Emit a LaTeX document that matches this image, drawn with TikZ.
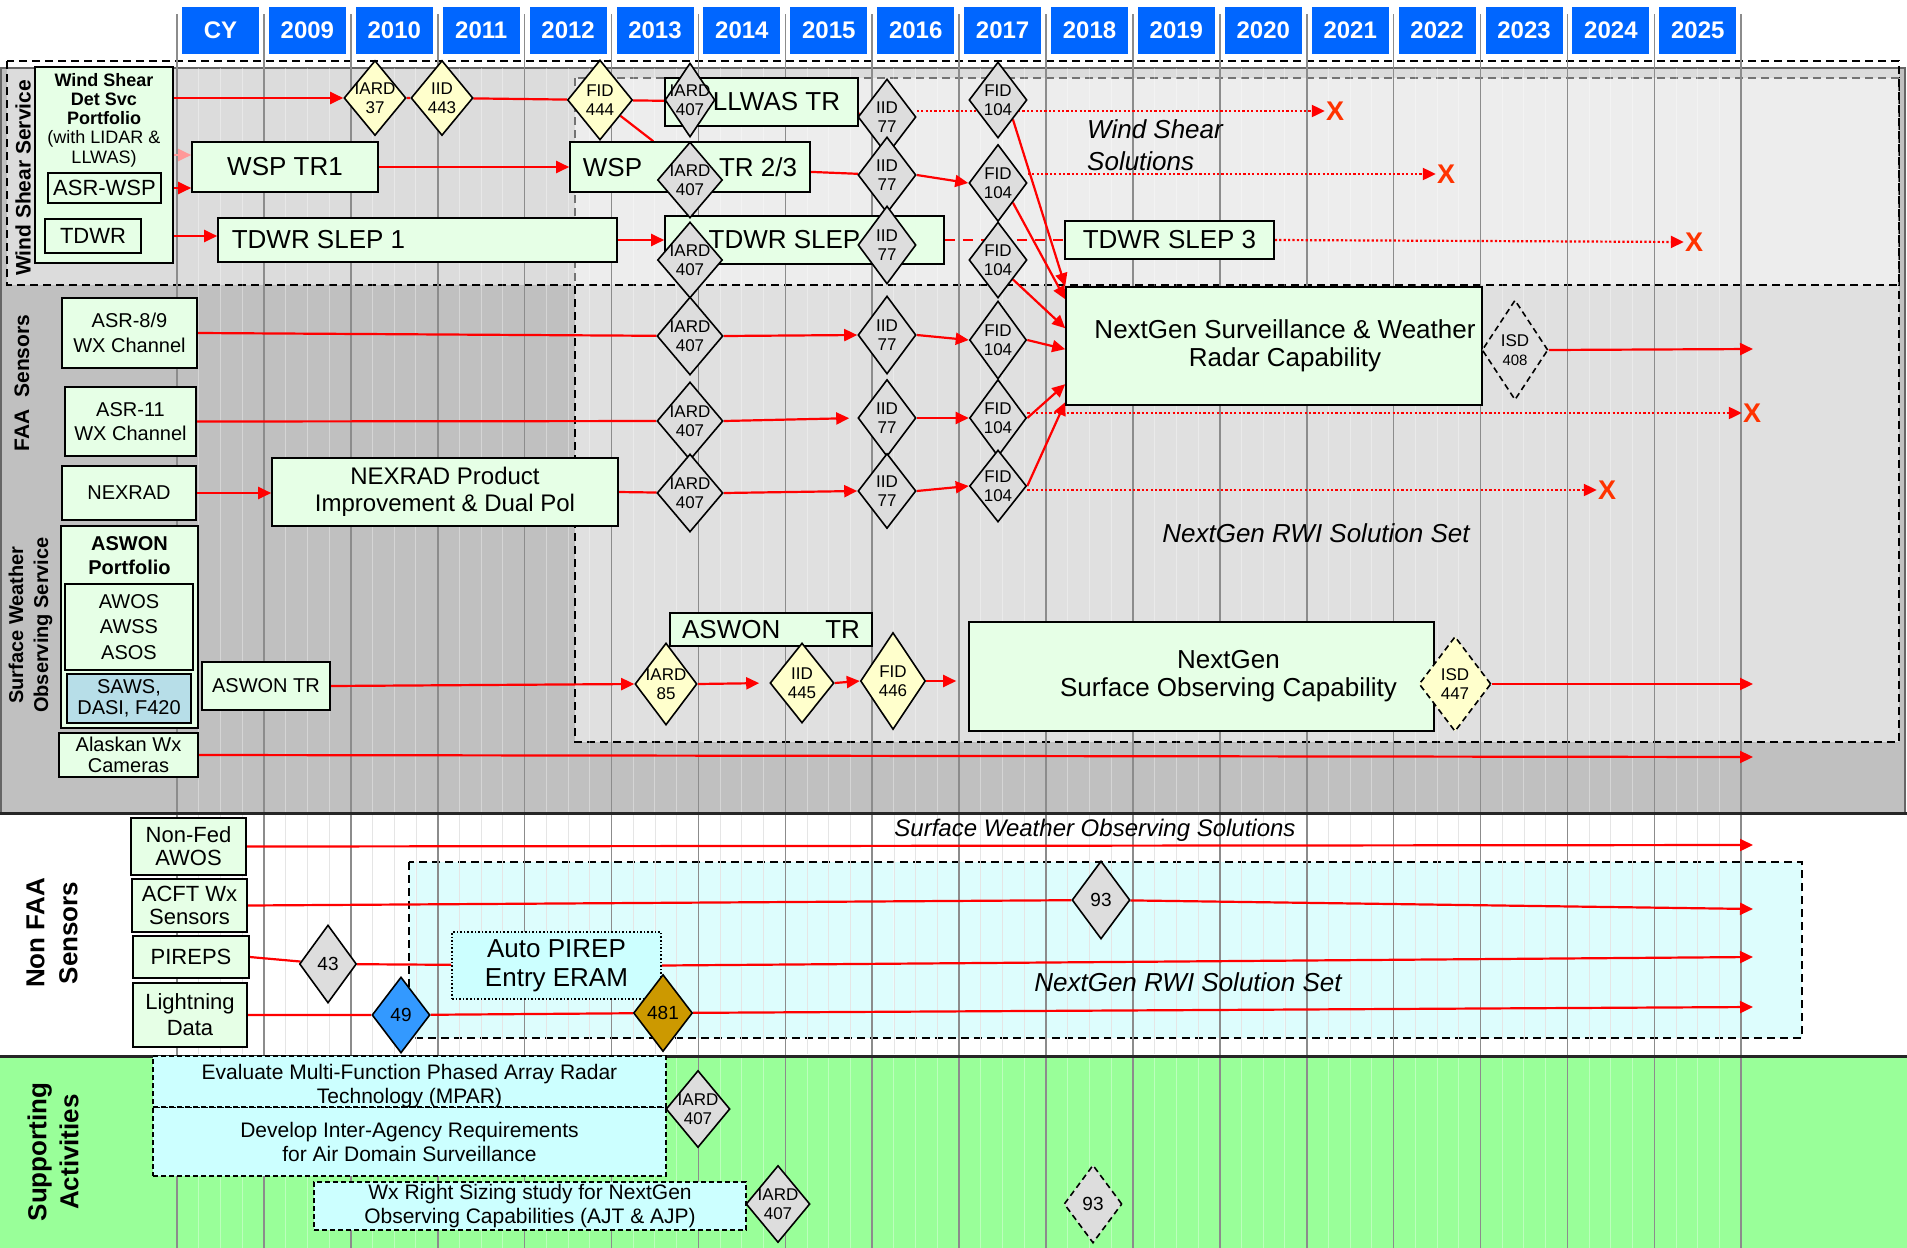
\documentclass[tikz,border=0pt]{standalone}
\usepackage{fontspec}
\setmainfont{Liberation Sans}
\usetikzlibrary{shapes.geometric,arrows.meta,calc}
\definecolor{mint}{HTML}{E6FFE6}
\definecolor{pyel}{HTML}{FFFFCC}
\definecolor{dgray}{HTML}{DDDDDD}
\definecolor{hblue}{HTML}{0066FF}
\definecolor{panel}{HTML}{C0C0C0}
\definecolor{rwi}{HTML}{E0E0E0}
\definecolor{lcyan}{HTML}{DDFDFD}
\definecolor{bcyan}{HTML}{CCFFFF}
\definecolor{sgreen}{HTML}{99FF99}
\definecolor{sawsblue}{HTML}{B7DEE8}
\definecolor{dblue}{HTML}{3399FF}
\definecolor{dgold}{HTML}{CC9900}
\definecolor{xred}{HTML}{FF3300}
\definecolor{pinkar}{HTML}{FF9999}
\definecolor{gridc}{HTML}{8C8C8C}
\pgfdeclarelayer{bg}
\pgfdeclarelayer{edges}
\pgfsetlayers{bg,edges,main}
\tikzset{
 box/.style={draw=black, line width=1.6pt, fill=mint, inner sep=1pt},
 dbox/.style={draw=black, line width=1.6pt, dash pattern=on 5pt off 3pt, fill=bcyan, inner sep=0pt},
 yr/.style={fill=hblue, text=white, font=\bfseries\fontsize{24}{26}\selectfont, minimum width=77pt, minimum height=47pt, inner sep=0pt},
 dia/.style={diamond, draw=black, line width=1.6pt, inner sep=0pt},
 gd/.style={dia, fill=dgray},
 yd/.style={dia, fill=pyel},
 ddash/.style={dash pattern=on 6pt off 4pt},
 dlab/.style={font=\fontsize{17}{19}\selectfont, align=center, inner sep=0pt},
 nlab/.style={font=\fontsize{19}{21}\selectfont, inner sep=0pt},
 f20/.style={font=\fontsize{20}{24.5}\selectfont},
 f20t/.style={font=\fontsize{20}{21}\selectfont},
 f21/.style={font=\fontsize{21}{24}\selectfont},
 f22/.style={font=\fontsize{22}{23}\selectfont},
 f24/.style={font=\fontsize{24}{27}\selectfont},
 f26/.style={font=\fontsize{26}{28}\selectfont},
 ln/.style={draw=red, line width=2.2pt},
 arr/.style={ln, -{Triangle[length=13pt,width=12pt]}},
 dotarr/.style={arr, dash pattern=on 2.2pt off 2.2pt},
 xmark/.style={text=xred, font=\bfseries\fontsize{27}{29}\selectfont, inner sep=1pt},
 sect/.style={rotate=90, font=\bfseries\fontsize{21}{25}\selectfont, align=center, inner sep=0pt},
 note/.style={font=\itshape\fontsize{26}{32}\selectfont, inner sep=0pt},
 blkdash/.style={draw=black, line width=2pt, dash pattern=on 8pt off 5pt},
}
\begin{document}
\begin{tikzpicture}[x=1pt,y=-1pt]
\useasboundingbox (0,0) rectangle (1907,1248);

% ---------------- backgrounds ----------------
\begin{pgfonlayer}{bg}
\fill[white] (0,0) rectangle (1907,1248);
\fill[panel] (0,68) rectangle (1905,813);
\fill[rwi] (575,78) rectangle (1899,742);
\draw[blkdash] (575,78) rectangle (1899,742);
\fill[white, opacity=.45] (7,61) rectangle (1899,285);
\draw[draw=black!60, line width=2pt] (1,68) rectangle (1905,813);
\draw[blkdash] (7,61) rectangle (1899,285);
\fill[sgreen] (0,1056) rectangle (1907,1248);
\fill[lcyan] (409,862) rectangle (1802,1038);
\draw[blkdash] (409,862) rectangle (1802,1038);
\foreach \i in {0,...,17}{\foreach \k in {1,2,3}{
  \draw[white, opacity=.35, line width=1pt] ({177+86.9*\i+21.725*\k},68) -- ({177+86.9*\i+21.725*\k},1248);
  \draw[gray!20, line width=0.8pt] ({177+86.9*\i+21.725*\k},815) -- ({177+86.9*\i+21.725*\k},1054);}}
\foreach \i in {0,...,18}
  \draw[gridc, line width=1.6pt] ({177+86.9*\i},14) -- ({177+86.9*\i},1248);
\draw[black!85, line width=3pt] (0,813) -- (1907,813);
\draw[black!85, line width=3pt] (0,1056) -- (1907,1056);
\end{pgfonlayer}

% ---------------- header ----------------
\foreach \t [count=\i from 0] in {CY,2009,2010,2011,2012,2013,2014,2015,2016,2017,2018,2019,2020,2021,2022,2023,2024,2025}
  \node[yr] (yr\i) at ({220.5+86.9*\i},30) {\t};

% ---------------- section labels ----------------
\node[sect] (lws) at (23,178) {Wind Shear Service};
\node[sect] (lfaa) at (22,383) {FAA\ \ Sensors};
\node[sect, font=\bfseries\fontsize{20}{25}\selectfont] (lsurf) at (30.5,625) {Surface Weather\\Observing Service};
\node[sect, font=\bfseries\fontsize{26}{33}\selectfont] (lnon) at (52,933) {Non FAA\\Sensors};
\node[sect, font=\bfseries\fontsize{26}{32}\selectfont] (lsup) at (53,1152) {Supporting\\Activities};

% ---------------- wind shear ----------------
\node[box, minimum width=138pt, minimum height=196pt] (pbox) at (104,165) {};
\node[font=\fontsize{18}{19.2}\selectfont, align=center, inner sep=0pt] (ptext) at (104,120) {\textbf{Wind Shear}\\\textbf{Det Svc}\\\textbf{Portfolio}\\(with LIDAR \&\\LLWAS)};
\node[box, f22, minimum width=113pt, minimum height=30pt] (asrwsp) at (104.5,188) {ASR-WSP};
\node[box, f22, minimum width=96pt, minimum height=34pt] (tdwr) at (93,236) {TDWR};
\node[box, f26, minimum width=186pt, minimum height=50pt] (wsptr1) at (285,167) {WSP TR1};
\node[box, f26, minimum width=399pt, minimum height=44pt] (slep1) at (417.5,240) {TDWR SLEP 1\rule{198pt}{0pt}};
\node[box, f26, minimum width=193pt, minimum height=48pt] (llwas) at (761.5,102) {\rule{30pt}{0pt}LLWAS TR};
\node[box, f26, minimum width=240pt, minimum height=50pt] (wsp23) at (690,167) {WSP\rule{77pt}{0pt}TR 2/3};
\node[box, f26, minimum width=279pt, minimum height=48pt] (slepbox) at (804.5,240) {TDWR SLEP\rule{40pt}{0pt}};
\node[box, f26, minimum width=209pt, minimum height=38pt] (slep3) at (1169.5,240) {TDWR SLEP 3};

\node[yd, minimum width=62pt, minimum height=75pt, label={[dlab]center:IARD\\37}] (iard37) at (375,98) {};
\node[yd, minimum width=62pt, minimum height=75pt, label={[dlab]center:IID\\443}] (iid443) at (442,98) {};
\node[yd, minimum width=65pt, minimum height=80pt, label={[dlab]center:FID\\444}] (fid444) at (600,100) {};
\node[gd, minimum width=50pt, minimum height=74pt, label={[dlab]center:IARD\\407}] (iard407a) at (690,100) {};
\node[gd, minimum width=58pt, minimum height=76pt, label={[dlab]center:IID\\77}] (iid77a) at (887,117) {};
\node[gd, minimum width=58pt, minimum height=76pt, label={[dlab]center:FID\\104}] (fid104a) at (998,100) {};
\node[gd, minimum width=65pt, minimum height=76pt, label={[dlab]center:IARD\\407}] (iard407b) at (690,180) {};
\node[gd, minimum width=58pt, minimum height=76pt, label={[dlab]center:IID\\77}] (iid77b) at (887,175) {};
\node[gd, minimum width=58pt, minimum height=77pt, label={[dlab]center:FID\\104}] (fid104b) at (998,183) {};
\node[gd, minimum width=65pt, minimum height=76pt, label={[dlab]center:IARD\\407}] (iard407c) at (690,260) {};
\node[gd, minimum width=58pt, minimum height=78pt, label={[dlab]center:IID\\77}] (iid77c) at (887,245) {};
\node[gd, minimum width=58pt, minimum height=76pt, label={[dlab]center:FID\\104}] (fid104c) at (998,260) {};

\node[xmark] (x1) at (1335,111) {X};
\node[xmark] (x2) at (1446,174) {X};
\node[xmark] (x3) at (1694,242) {X};
\node[note, anchor=west, align=left] (wss) at (1087,145) {Wind Shear\\Solutions};

% ---------------- FAA sensors ----------------
\node[box, minimum width=416pt, minimum height=118pt, label={[f26, align=center, inner sep=0pt, xshift=11pt]center:NextGen Surveillance \& Weather\\Radar Capability}] (ngsurv) at (1274,346) {};
\node[dia, ddash, fill=rwi, minimum width=66pt, minimum height=100pt, label={[dlab]center:ISD\\{\fontsize{15}{17}\selectfont 408}}] (isd408) at (1515,350) {};

\node[box, f20, align=center, minimum width=135pt, minimum height=70pt] (asr89) at (129.5,333) {ASR-8/9\\WX Channel};
\node[box, f20, align=center, minimum width=131pt, minimum height=69pt] (asr11) at (130.5,421.5) {ASR-11\\WX Channel};
\node[box, f20, minimum width=134pt, minimum height=54pt] (nexrad) at (129,493) {NEXRAD};
\node[box, f24, align=center, minimum width=346pt, minimum height=68pt] (nexprod) at (445,492) {NEXRAD Product\\Improvement \& Dual Pol};

\node[gd, minimum width=66pt, minimum height=78pt, label={[dlab]center:IARD\\407}] (iard407d) at (690,336) {};
\node[gd, minimum width=66pt, minimum height=78pt, label={[dlab]center:IARD\\407}] (iard407e) at (690,421) {};
\node[gd, minimum width=66pt, minimum height=78pt, label={[dlab]center:IARD\\407}] (iard407f) at (690,493) {};
\node[gd, minimum width=58pt, minimum height=78pt, label={[dlab]center:IID\\77}] (iid77d) at (887,335) {};
\node[gd, minimum width=58pt, minimum height=77pt, label={[dlab]center:IID\\77}] (iid77e) at (887,418) {};
\node[gd, minimum width=58pt, minimum height=75pt, label={[dlab]center:IID\\77}] (iid77f) at (887,491) {};
\node[gd, minimum width=57pt, minimum height=78pt, label={[dlab]center:FID\\104}] (fid104d) at (998,340) {};
\node[gd, minimum width=57pt, minimum height=77pt, label={[dlab]center:FID\\104}] (fid104e) at (998,418) {};
\node[gd, minimum width=57pt, minimum height=72pt, label={[dlab]center:FID\\104}] (fid104f) at (998,486) {};

\node[xmark] (x4) at (1752,413) {X};
\node[xmark] (x5) at (1607,490) {X};
\node[note] (rwi1) at (1316,533) {NextGen RWI Solution Set};

% ---------------- surface observing ----------------
\node[box, minimum width=137pt, minimum height=202pt] (aswonp) at (129.5,627) {};
\node[font=\bfseries\fontsize{20}{24}\selectfont, align=center, inner sep=0pt] (aswonpt) at (129.5,556) {ASWON\\Portfolio};
\node[box, font=\fontsize{20}{25.5}\selectfont, align=center, minimum width=128pt, minimum height=86pt] (awos) at (129,627) {AWOS\\AWSS\\ASOS};
\node[box, fill=sawsblue, f20t, align=center, minimum width=124pt, minimum height=49pt] (saws) at (129,698.5) {SAWS,\\DASI, F420};
\node[box, f20, minimum width=128pt, minimum height=48pt] (aswontr) at (266,686) {ASWON TR};
\node[box, f20t, align=center, minimum width=139pt, minimum height=44pt] (alaskan) at (128.5,755) {Alaskan Wx\\Cameras};
\node[box, f26, minimum width=202pt, minimum height=33pt] (aswontr2) at (771,629.5) {ASWON\rule{45pt}{0pt}TR};
\node[yd, minimum width=62pt, minimum height=82pt, label={[dlab]center:IARD\\85}] (iard85) at (666,684) {};
\node[yd, minimum width=64pt, minimum height=80pt, label={[dlab]center:IID\\445}] (iid445) at (802,683) {};
\node[yd, minimum width=65pt, minimum height=97pt, label={[dlab]center:FID\\446}] (fid446) at (893,681) {};
\node[box, minimum width=465pt, minimum height=109pt, label={[font=\fontsize{26}{28}\selectfont, align=center, inner sep=0pt, xshift=27pt]center:NextGen\\Surface Observing Capability}] (ngsurf) at (1201.5,676.5) {};
\node[yd, ddash, minimum width=72pt, minimum height=95pt, label={[dlab]center:ISD\\447}] (isd447) at (1455,684) {};

% ---------------- non FAA ----------------
\node[box, f22, align=center, minimum width=115pt, minimum height=57pt] (nonfed) at (188.5,846.5) {Non-Fed\\AWOS};
\node[box, f22, align=center, minimum width=115pt, minimum height=53pt] (acft) at (189.5,905.5) {ACFT Wx\\Sensors};
\node[box, f22, minimum width=116pt, minimum height=42pt] (pireps) at (191,957) {PIREPS};
\node[box, font=\fontsize{22}{26}\selectfont, align=center, minimum width=114pt, minimum height=64pt] (lightning) at (190,1015) {Lightning\\Data};
\node[draw=black, line width=1.6pt, dash pattern=on 1.6pt off 2pt, fill=bcyan, font=\fontsize{26}{29}\selectfont, align=center, inner sep=0pt, minimum width=209pt, minimum height=67pt] (autopirep) at (556.5,965.5) {Auto PIREP\\Entry ERAM};
\node[gd, minimum width=58pt, minimum height=78pt, label={[nlab]center:93}] (d93a) at (1101,900) {};
\node[gd, minimum width=57pt, minimum height=78pt, label={[nlab]center:43}] (d43) at (328,964) {};
\node[dia, fill=dblue, minimum width=58pt, minimum height=76pt, label={[nlab]center:49}] (d49) at (401,1015) {};
\node[dia, fill=dgold, minimum width=59pt, minimum height=77pt, label={[nlab]center:481}] (d481) at (663,1013) {};
\node[font=\itshape\fontsize{24}{28}\selectfont, inner sep=0pt] (swos) at (1095,830) {Surface Weather Observing Solutions};
\node[note] (rwi2) at (1188,982) {NextGen RWI Solution Set};

% ---------------- supporting ----------------
\node[dbox, f21, align=center, minimum width=513pt, minimum height=69pt] (interag) at (409.5,1141.5) {Develop Inter-Agency Requirements\\for Air Domain Surveillance};
\node[dbox, minimum width=513pt, minimum height=51pt, label={[f21, align=center, inner sep=0pt, yshift=-5pt]center:Evaluate Multi-Function Phased Array Radar\\Technology (MPAR)}] (mpar) at (409.5,1081.5) {};
\node[dbox, f21, align=center, minimum width=432pt, minimum height=48pt] (rights) at (530,1206) {Wx Right Sizing study for NextGen\\Observing Capabilities (AJT \& AJP)};
\node[gd, minimum width=64pt, minimum height=77pt, label={[dlab]center:IARD\\407}] (iard407g) at (698,1109) {};
\node[gd, minimum width=64pt, minimum height=77pt, label={[dlab]center:IARD\\407}] (iard407h) at (778,1204) {};
\node[gd, ddash, minimum width=58pt, minimum height=78pt, label={[nlab]center:93}] (d93b) at (1093,1204) {};

% ---------------- free ends ----------------
\coordinate (e1) at (1753,349);
\coordinate (e2) at (1753,684);
\coordinate (e3) at (1753,757);
\coordinate (e4) at (1753,845);
\coordinate (e5) at (1753,909);
\coordinate (e6) at (1753,957);
\coordinate (e7) at (1753,1007);
\coordinate (c1) at ($(wsptr1.west)+(0,-12)$);
\coordinate (c2) at ($(wsp23.north west)+(84,0)$);
\coordinate (ng2) at ($(ngsurv.north west)+(0,13)$);
\coordinate (ng3) at ($(ngsurv.north west)+(0,42)$);
\coordinate (ng4) at ($(ngsurv.north west)+(0,63)$);
\coordinate (ng5) at ($(ngsurv.north west)+(0,98)$);
\coordinate (ng6) at ($(ngsurv.north west)+(0,116)$);

% ---------------- connectors ----------------
\begin{pgfonlayer}{edges}
\draw[arr] (pbox.east |- iard37.west) -- (iard37.west);
\draw[arr, draw=pinkar] (pbox.east |- c1) -- (c1);
\draw[arr] (asrwsp.east) -- (wsptr1.west |- asrwsp.east);
\draw[arr] (tdwr.east) -- (slep1.west |- tdwr.east);
\draw[ln] (iard37) -- (iid443) -- (fid444) -- (llwas);
\draw[ln] (fid444) -- (c2);
\draw[ln] (llwas) -- (iid77a);
\draw[dotarr] (iid77a.east |- x1.west) -- (x1.west);
\draw[arr] (wsptr1.east) -- (wsp23.west);
\draw[ln] (wsp23) -- (iid77b);
\draw[arr] (iid77b.east) -- (fid104b.west);
\draw[dotarr] (fid104b.east |- x2.west) -- (x2.west);
\draw[arr] (slep1.east) -- (slepbox.west |- slep1.east);
\draw[ln, dash pattern=on 10pt off 8pt] (slepbox.east) -- (slep3.west);
\draw[dotarr] (slep3.east) -- (x3.west);
\draw[arr] (fid104a.south east) -- (ngsurv.north west);
\draw[arr] (fid104b.south east) -- (ng2);
\draw[arr] (fid104c.south east) -- (ng3);
\draw[arr] (fid104d.east) -- (ng4);
\draw[arr] (fid104e.east) -- (ng5);
\draw[arr] (fid104f.east) -- (ng6);
\draw[arr] (isd408.east) -- (e1);

\draw[ln] (asr89.east) -- (iard407d);
\draw[arr] (iard407d.east) -- (iid77d.west);
\draw[arr] (iid77d.east) -- (fid104d.west);
\draw[ln] (asr11.east) -- (iard407e);
\draw[arr, shorten >=8pt] (iard407e.east) -- (iid77e.west);
\draw[arr] (iid77e.east) -- (fid104e.west);
\draw[dotarr] (fid104e.east |- x4.west) -- (x4.west);
\draw[arr] (nexrad.east) -- (nexprod.west |- nexrad.east);
\draw[ln] (nexprod.east) -- (iard407f);
\draw[arr] (iard407f.east) -- (iid77f.west);
\draw[arr] (iid77f.east) -- (fid104f.west);
\draw[dotarr] (fid104f.east |- x5.west) -- (x5.west);

\draw[arr] (aswontr.east) -- (iard85.west);
\draw[arr, shorten >=10pt] (iard85.east) -- (iid445.west);
\draw[arr] (iid445.east) -- (fid446.west);
\draw[arr, shorten >=12pt] (fid446.east) -- (ngsurf.west |- fid446.east);
\draw[arr] (isd447.east) -- (e2);
\draw[arr] (alaskan.east) -- (e3);

\draw[arr] (nonfed.east) -- (e4);
\draw[ln] (acft.east) -- (d93a);
\draw[arr] (d93a) -- (e5);
\draw[ln] (pireps.east) -- (d43) -- (autopirep);
\draw[arr] (autopirep.east) -- (e6);
\draw[ln] (lightning.east) -- (d49) -- (d481);
\draw[arr] (d481) -- (e7);
\end{pgfonlayer}
\end{tikzpicture}
\end{document}
